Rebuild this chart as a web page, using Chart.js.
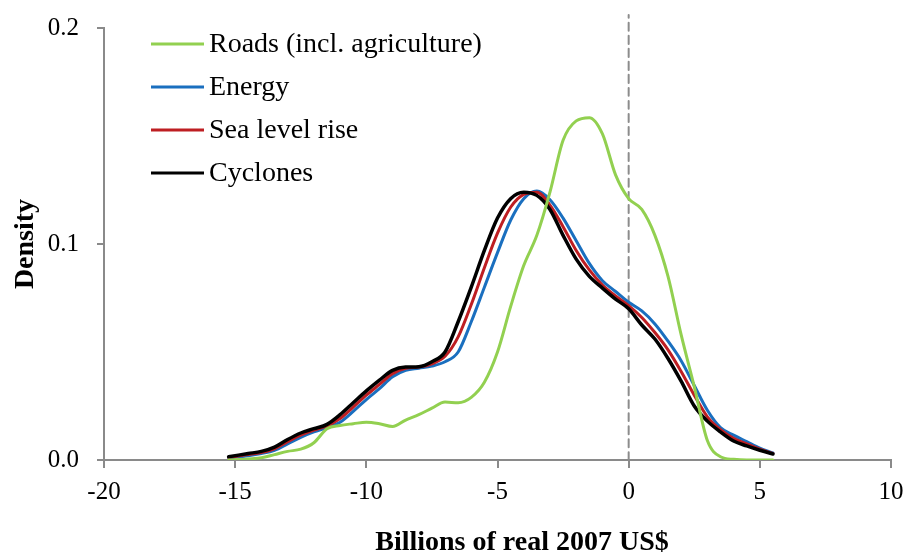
<!DOCTYPE html>
<html>
<head>
<meta charset="utf-8">
<script src="https://cdn.jsdelivr.net/npm/chart.js@4.4.1/dist/chart.umd.min.js"></script>
<style>
    html, body { margin: 0; padding: 0; background: #ffffff; }
    #wrap { width: 905px; height: 553px; }
</style>
</head>
<body>
<div id="wrap"><canvas id="densityChart" width="905" height="553"></canvas></div>
<script>
// Nilai x (miliar US$ riil 2007) yang dipakai semua seri
const xs = [
    -15.25, -14.5, -14, -13.5, -13, -12.5, -12, -11.5, -11, -10.5, -10, -9.5, -9, -8.5,
    -8, -7.5, -7, -6.5, -6, -5.5, -5, -4.5, -4, -3.5, -3, -2.5, -2, -1.5, -1, -0.5,
    0, 0.5, 1, 1.5, 2, 2.5, 3, 3.5, 4, 4.5, 5, 5.5
];

// Density per seri
const roads = [
    0.0, 0.0005, 0.001, 0.0025, 0.004, 0.005, 0.008, 0.0145, 0.016, 0.0168, 0.0175, 0.0168, 0.0155, 0.0185,
    0.021, 0.024, 0.0268, 0.0265, 0.029, 0.036, 0.050, 0.071, 0.090, 0.104, 0.124, 0.148, 0.157, 0.1585, 0.151, 0.132,
    0.121, 0.116, 0.104, 0.085, 0.058, 0.034, 0.009, 0.0015, 0.0003, 0.0, 0.0, 0.0
];
const energy = [
    0.001, 0.002, 0.003, 0.0045, 0.0075, 0.0105, 0.013, 0.015, 0.0175, 0.0225, 0.028, 0.033, 0.0385, 0.0415,
    0.0425, 0.0435, 0.0455, 0.050, 0.064, 0.080, 0.096, 0.111, 0.121, 0.1245, 0.1205, 0.112, 0.1015, 0.091, 0.083, 0.078,
    0.073, 0.069, 0.063, 0.055, 0.046, 0.0345, 0.023, 0.015, 0.0115, 0.0085, 0.0055, 0.0033
];
const seaLevel = [
    0.0012, 0.0025, 0.0035, 0.0052, 0.0085, 0.0115, 0.0138, 0.0158, 0.0192, 0.0245, 0.030, 0.035, 0.040, 0.0425,
    0.043, 0.0445, 0.048, 0.057, 0.072, 0.089, 0.105, 0.117, 0.123, 0.124, 0.118, 0.108, 0.097, 0.088, 0.081, 0.076,
    0.0715, 0.066, 0.059, 0.051, 0.041, 0.030, 0.020, 0.014, 0.010, 0.0075, 0.005, 0.003
];
const cyclones = [
    0.0015, 0.003, 0.004, 0.006, 0.0095, 0.0125, 0.0145, 0.0165, 0.021, 0.0265, 0.032, 0.037, 0.0415, 0.043,
    0.0432, 0.0455, 0.050, 0.064, 0.080, 0.097, 0.112, 0.121, 0.124, 0.1225, 0.116, 0.104, 0.093, 0.085, 0.0796, 0.0745,
    0.070, 0.0625, 0.056, 0.047, 0.0365, 0.025, 0.018, 0.013, 0.0088, 0.0065, 0.0045, 0.0028
];

const seriesNames = ["Roads (incl. agriculture)", "Energy", "Sea level rise", "Cyclones"];
const xTickValues = [-20, -15, -10, -5, 0, 5, 10];
const yTickValues = [0, 0.1, 0.2];

// Garis putus-putus di x = 0
const refLineX = [0, 0];
const refLineY = [0, 0.206];

const SERIF = '"Liberation Serif", "Times New Roman", serif';
const AXIS_GRAY = "#8a8a8a";

function toPoints(values) {
    return xs.map((x, i) => ({ x: x, y: values[i] }));
}

// Legenda di dalam area plot (kiri atas)
const insideLegend = {
    id: "insideLegend",
    afterDraw(chart) {
        const ctx = chart.ctx;
        ctx.save();
        ctx.font = "28px " + SERIF;
        ctx.textAlign = "left";
        ctx.textBaseline = "middle";
        seriesNames.forEach((name, i) => {
            const ds = chart.data.datasets[i];
            const y = 44 + i * 43;
            ctx.strokeStyle = ds.borderColor;
            ctx.lineWidth = 3;
            ctx.beginPath();
            ctx.moveTo(151, y);
            ctx.lineTo(204, y);
            ctx.stroke();
            ctx.fillStyle = "#000000";
            ctx.fillText(name, 209, y + 1);
        });
        ctx.restore();
    }
};

// Judul sumbu x
const xAxisTitle = {
    id: "xAxisTitle",
    afterDraw(chart) {
        const ctx = chart.ctx;
        ctx.save();
        ctx.font = "bold 28px " + SERIF;
        ctx.fillStyle = "#000000";
        ctx.textAlign = "center";
        ctx.textBaseline = "alphabetic";
        ctx.fillText("Billions of real 2007 US$", 522, 550);
        ctx.restore();
    }
};

document.addEventListener("DOMContentLoaded", function () {
    const ctx = document.getElementById("densityChart").getContext("2d");

    new Chart(ctx, {
        type: "line",
        data: {
            datasets: [
                {
                    label: seriesNames[0],
                    data: toPoints(roads),
                    borderColor: "#92d050",
                    borderWidth: 3,
                    order: 0,
                },
                {
                    label: seriesNames[1],
                    data: toPoints(energy),
                    borderColor: "#1a6fbf",
                    borderWidth: 3,
                    order: 3,
                },
                {
                    label: seriesNames[2],
                    data: toPoints(seaLevel),
                    borderColor: "#be1e22",
                    borderWidth: 3,
                    order: 2,
                },
                {
                    label: seriesNames[3],
                    data: toPoints(cyclones),
                    borderColor: "#000000",
                    borderWidth: 3.5,
                    order: 1,
                },
                {
                    label: "zero",
                    data: refLineX.map((x, i) => ({ x: x, y: refLineY[i] })),
                    borderColor: "#8c8c8c",
                    borderWidth: 2,
                    borderDash: [8, 5],
                    clip: false,
                    tension: 0,
                    order: 5,
                }
            ]
        },
        options: {
            responsive: false,
            animation: false,
            devicePixelRatio: 1,
            layout: {
                padding: { left: 0, right: 14, top: 28, bottom: 0 }
            },
            elements: {
                point: { radius: 0 },
                line: { cubicInterpolationMode: "monotone", borderCapStyle: "round" }
            },
            plugins: {
                legend: { display: false },
                tooltip: { enabled: false }
            },
            scales: {
                x: {
                    type: "linear",
                    min: -20,
                    max: 10,
                    afterBuildTicks: function (scale) {
                        scale.ticks = xTickValues.map(v => ({ value: v }));
                    },
                    afterFit: function (scale) {
                        scale.height = 93;
                        scale.paddingLeft = 0;
                        scale.paddingRight = 0;
                    },
                    grid: {
                        display: true,
                        drawOnChartArea: false,
                        drawTicks: true,
                        tickLength: 8,
                        color: AXIS_GRAY,
                        lineWidth: 2,
                    },
                    border: { display: true, color: AXIS_GRAY, width: 2 },
                    ticks: {
                        color: "#000000",
                        font: { family: SERIF, size: 25 },
                        padding: 9,
                        maxRotation: 0,
                        callback: function (value) {
                            return String(value);
                        }
                    }
                },
                y: {
                    min: 0,
                    max: 0.2,
                    afterBuildTicks: function (scale) {
                        scale.ticks = yTickValues.map(v => ({ value: v }));
                    },
                    afterFit: function (scale) {
                        scale.width = 104;
                        scale.paddingTop = 0;
                        scale.paddingBottom = 0;
                    },
                    grid: {
                        display: true,
                        drawOnChartArea: false,
                        drawTicks: true,
                        tickLength: 7,
                        color: AXIS_GRAY,
                        lineWidth: 2,
                    },
                    border: { display: true, color: AXIS_GRAY, width: 2 },
                    ticks: {
                        color: "#000000",
                        font: { family: SERIF, size: 25 },
                        padding: 18,
                        callback: function (value) {
                            return value.toFixed(1);
                        }
                    },
                    title: {
                        display: true,
                        text: "Density",
                        color: "#000000",
                        font: { family: SERIF, size: 28, weight: "bold" },
                        padding: { top: 9, bottom: 0 }
                    }
                }
            }
        },
        plugins: [insideLegend, xAxisTitle]
    });
});
</script>
</body>
</html>
